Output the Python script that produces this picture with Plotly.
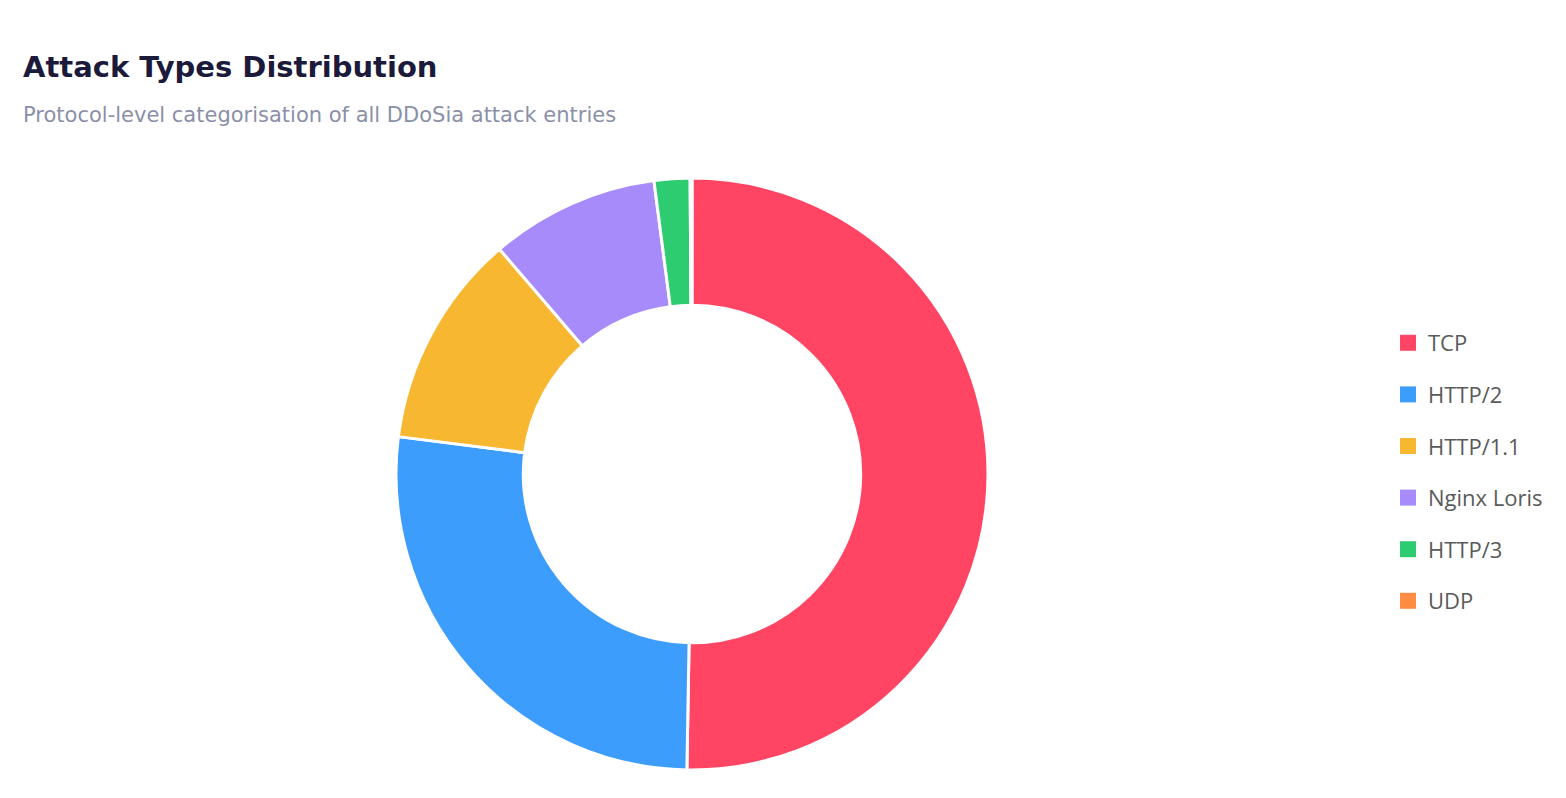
import plotly.graph_objects as go

labels = ["TCP", "HTTP/2", "HTTP/1.1", "Nginx Loris", "HTTP/3", "UDP"]
values = [50.2, 26.7, 11.7, 9.2, 1.95, 0.1]
colors = ["#FF4563", "#3D9DFD", "#F7B731", "#A78BFA", "#2ECC71", "#FF8C42"]

title_text = "Attack Types Distribution"
subtitle_text = "Protocol-level categorisation of all DDoSia attack entries"

W, H = 1566, 798

fig = go.Figure()
fig.add_trace(go.Pie(
    labels=labels, values=values, hole=0.57, sort=False, direction="clockwise",
    rotation=0, textinfo="none", showlegend=False,
    marker=dict(colors=colors, line=dict(color="white", width=3)),
    domain=dict(x=[(692 - 296) / W, (692 + 296) / W], y=[28 / H, 620 / H]),
))
for i, (lab, col) in enumerate(zip(labels, colors)):
    fig.add_trace(go.Scatter(
        x=[None], y=[None], mode="markers", name=lab, legendgroup=f"g{i}",
        marker=dict(symbol="square", size=20, color=col),
    ))

fig.update_layout(
    width=W, height=H,
    margin=dict(l=0, r=0, t=0, b=0),
    paper_bgcolor="white", plot_bgcolor="white",
    xaxis=dict(visible=False), yaxis=dict(visible=False),
    font=dict(family="Open Sans, sans-serif"),
    legend=dict(
        x=1388 / W, xanchor="left", y=1 - 472 / H, yanchor="middle",
        font=dict(size=22, color="#5A5A5A", family="Open Sans, sans-serif"),
        tracegroupgap=20, itemsizing="trace",
    ),
    annotations=[
        dict(text="<b>" + title_text + "</b>", x=21 / W, y=1 - 67 / H, xref="paper", yref="paper",
             xanchor="left", yanchor="middle", showarrow=False,
             font=dict(size=29, color="#1C1A3A", family="DejaVu Sans, sans-serif")),
        dict(text=subtitle_text, x=21 / W, y=1 - 115 / H, xref="paper", yref="paper",
             xanchor="left", yanchor="middle", showarrow=False,
             font=dict(size=21, color="#8A90A8", family="DejaVu Sans, sans-serif")),
    ],
)

fig.write_html("out.html")
